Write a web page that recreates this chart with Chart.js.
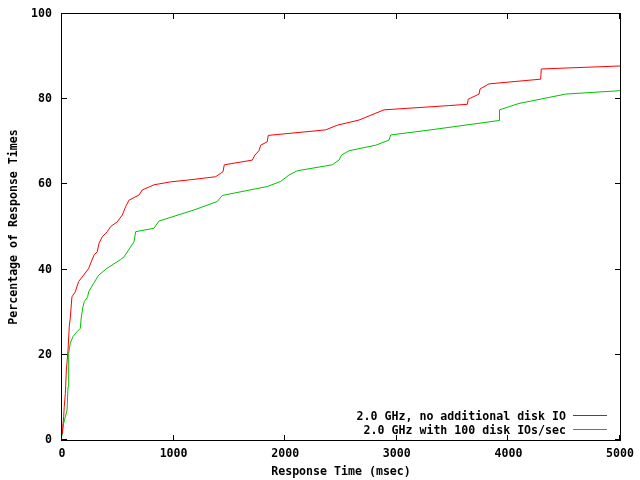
<!DOCTYPE html>
<html>
<head>
<meta charset="utf-8">
<script src="https://cdn.jsdelivr.net/npm/chart.js@4/dist/chart.umd.min.js"></script>
<style>
  html, body { margin: 0; padding: 0; background: #fff; }
  canvas { display: block; }
</style>
</head>
<body>
<canvas id="chartResponse" width="640" height="480"></canvas>
<script>
const xTicks = [0, 1000, 2000, 3000, 4000, 5000];
const yTicks = [0, 20, 40, 60, 80, 100];
const seriesLabels = ["2.0 GHz, no additional disk IO", "2.0 GHz with 100 disk IOs/sec"];

// response time (msec) / percentage
const noLoadTimes = [0, 5, 15, 20, 30, 39, 54, 65, 74, 89, 119, 149, 194, 239, 257, 287, 316, 332, 361, 406, 436, 495, 540, 571, 600, 690, 720, 824, 974, 1123, 1377, 1443, 1454, 1705, 1729, 1765, 1780, 1839, 1848, 2363, 2467, 2661, 2885, 3467, 3632, 3640, 3737, 3746, 3826, 4289, 4295, 5000];
const noLoadPercent = [1.5, 2.7, 5.5, 7.8, 10.9, 16.4, 21.1, 26.6, 28.6, 33.6, 34.8, 37.2, 38.7, 40.3, 41.5, 43.4, 44.2, 46.2, 47.7, 48.9, 50.1, 51.2, 52.8, 54.8, 56.3, 57.5, 58.7, 59.9, 60.6, 61, 61.8, 63, 64.6, 65.7, 66.9, 67.9, 69.2, 70, 71.5, 72.8, 73.9, 75.1, 77.5, 78.5, 78.8, 80, 81.2, 82.4, 83.6, 84.7, 87.1, 87.8];

const diskLoadTimes = [0, 15, 45, 54, 60, 74, 99, 134, 164, 173, 188, 200, 230, 239, 284, 329, 403, 522, 556, 645, 660, 824, 869, 1183, 1392, 1436, 1839, 1960, 2034, 2108, 2422, 2482, 2506, 2572, 2811, 2930, 2945, 3304, 3916, 3920, 4095, 4513, 5000];
const diskLoadPercent = [1, 3.9, 7, 12.5, 20.4, 22.7, 24.3, 25.4, 26.2, 28.9, 31.3, 32.5, 33.6, 34.8, 36.8, 38.7, 40.3, 42.3, 43, 46.5, 48.9, 49.7, 51.4, 54, 56, 57.4, 59.5, 60.7, 62.2, 63.2, 64.6, 65.7, 66.9, 67.9, 69.2, 70.4, 71.6, 72.8, 75, 77.5, 79, 81.2, 82];

const seriesColors = ["#ff0000", "#00c000"];
const termFont = { family: "'DejaVu Sans Mono', monospace", size: 11.6, weight: "bold" };

function toPoints(xs, ys) {
  return xs.map((x, i) => ({ x, y: ys[i] }));
}

// gnuplot style frame: full box, inward ticks on all sides, key inside bottom right
const frameAndKey = {
  id: "frameAndKey",
  afterDatasetsDraw(chart) {
    const { ctx, chartArea: area, scales } = chart;
    const tickLen = 5;
    ctx.save();
    ctx.strokeStyle = "#000";
    ctx.lineWidth = 1;
    ctx.beginPath();
    xTicks.forEach((v) => {
      const px = Math.round(scales.x.getPixelForValue(v)) - 0.5;
      ctx.moveTo(px, area.bottom);
      ctx.lineTo(px, area.bottom - tickLen);
      ctx.moveTo(px, area.top);
      ctx.lineTo(px, area.top + tickLen);
    });
    yTicks.forEach((v) => {
      const py = Math.round(scales.y.getPixelForValue(v)) - 0.5;
      ctx.moveTo(area.left, py);
      ctx.lineTo(area.left + tickLen, py);
      ctx.moveTo(area.right, py);
      ctx.lineTo(area.right - tickLen, py);
    });
    ctx.stroke();
    ctx.strokeRect(area.left - 0.5, area.top - 0.5, area.right - area.left + 1, area.bottom - area.top + 1);

    ctx.font = `${termFont.weight} ${termFont.size}px ${termFont.family}`;
    ctx.textAlign = "right";
    ctx.textBaseline = "middle";
    ctx.fillStyle = "#000";
    chart.data.datasets.forEach((ds, i) => {
      const y = 415.5 + i * 14;
      ctx.fillText(ds.label, 566, y + 1);
      ctx.strokeStyle = ds.borderColor;
      ctx.beginPath();
      ctx.moveTo(573, y);
      ctx.lineTo(607, y);
      ctx.stroke();
    });
    ctx.restore();
  },
};

new Chart(document.getElementById("chartResponse"), {
  type: "line",
  data: {
    datasets: [
      {
        label: seriesLabels[0],
        data: toPoints(noLoadTimes, noLoadPercent),
        borderColor: seriesColors[0],
        borderWidth: 1,
        pointRadius: 0,
        tension: 0,
        fill: false,
      },
      {
        label: seriesLabels[1],
        data: toPoints(diskLoadTimes, diskLoadPercent),
        borderColor: seriesColors[1],
        borderWidth: 1,
        pointRadius: 0,
        tension: 0,
        fill: false,
      },
    ],
  },
  options: {
    responsive: false,
    animation: false,
    layout: { padding: { top: 14, right: 20, left: 0, bottom: 0 } },
    plugins: {
      legend: { display: false },
      tooltip: { enabled: false },
    },
    scales: {
      x: {
        type: "linear",
        min: 0,
        max: 5000,
        afterBuildTicks: (scale) => {
          scale.ticks = xTicks.map((v) => ({ value: v }));
        },
        afterFit: (scale) => {
          scale.height = 40;
          scale.paddingRight = 0;
          scale.paddingLeft = 0;
        },
        grid: { drawOnChartArea: false, drawTicks: false },
        border: { display: false },
        ticks: { color: "#000", font: termFont, padding: 7, maxRotation: 0, callback: (v) => String(v) },
        title: {
          display: true,
          text: "Response Time (msec)",
          color: "#000",
          font: termFont,
          padding: { top: 0, bottom: 1 },
        },
      },
      y: {
        type: "linear",
        min: 0,
        max: 100,
        afterBuildTicks: (scale) => {
          scale.ticks = yTicks.map((v) => ({ value: v }));
        },
        afterFit: (scale) => {
          scale.width = 62;
          scale.paddingTop = 0;
          scale.paddingBottom = 0;
        },
        grid: { drawOnChartArea: false, drawTicks: false },
        border: { display: false },
        ticks: { color: "#000", font: termFont, padding: 10, callback: (v) => String(v) },
        title: {
          display: true,
          text: "Percentage of Response Times",
          color: "#000",
          font: termFont,
          padding: { top: 7, bottom: 0 },
        },
      },
    },
  },
  plugins: [frameAndKey],
});
</script>
</body>
</html>
